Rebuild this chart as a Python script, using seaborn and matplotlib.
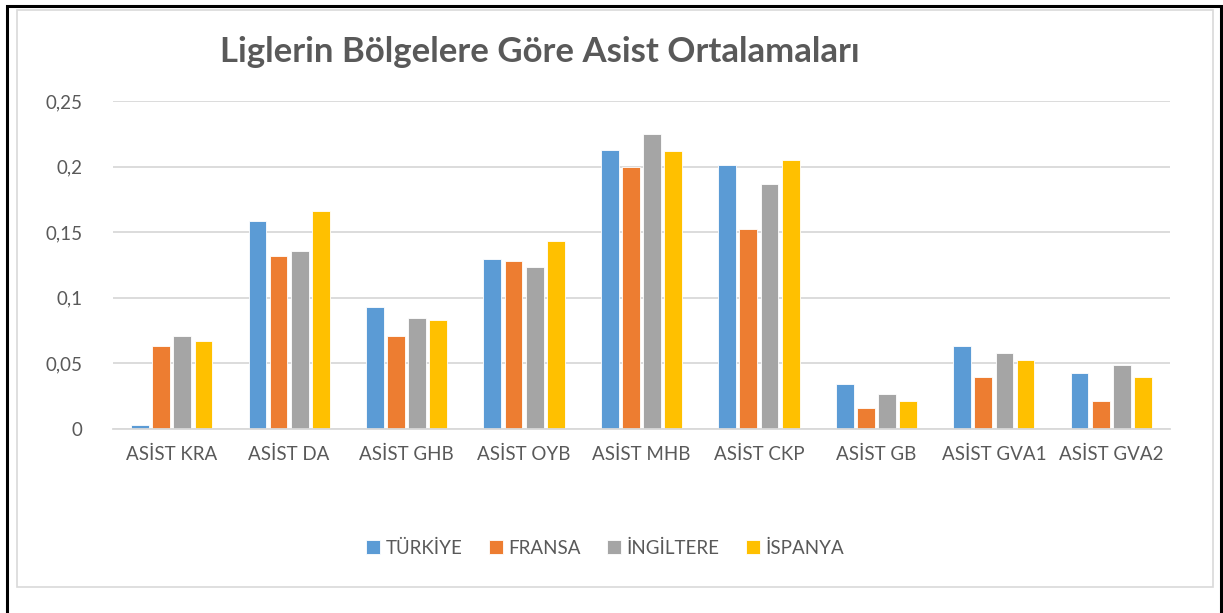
import matplotlib
matplotlib.use("Agg")
import matplotlib.pyplot as plt
from matplotlib.patches import Rectangle
from matplotlib.ticker import FuncFormatter
import pandas as pd
import seaborn as sns

kategoriler = ["ASİST KRA", "ASİST DA", "ASİST GHB", "ASİST OYB", "ASİST MHB",
               "ASİST CKP", "ASİST GB", "ASİST GVA1", "ASİST GVA2"]
ulkeler = ["TÜRKİYE", "FRANSA", "İNGİLTERE", "İSPANYA"]
turkiye = [0.0033, 0.1584, 0.0931, 0.1292, 0.2124, 0.2009, 0.0343, 0.0636, 0.0425]
fransa = [0.0631, 0.1317, 0.0712, 0.1277, 0.1999, 0.1526, 0.0158, 0.0394, 0.0211]
ingiltere = [0.0710, 0.1356, 0.0844, 0.1236, 0.2251, 0.1867, 0.0264, 0.0577, 0.0486]
ispanya = [0.0671, 0.1658, 0.0832, 0.1432, 0.2116, 0.2050, 0.0211, 0.0526, 0.0394]
renkler = ["#5b9bd5", "#ed7d31", "#a5a5a5", "#ffc000"]

seriler = [turkiye, fransa, ingiltere, ispanya]
rows = []
for ulke, vals in zip(ulkeler, seriler):
    for k, v in zip(kategoriler, vals):
        rows.append({"kategori": k, "ulke": ulke, "deger": v})
df = pd.DataFrame(rows)

sns.set_style("white")
plt.rcParams["font.family"] = ["Lato", "DejaVu Sans"]
gri = "#595959"

fig = plt.figure(figsize=(12.23, 6.13), dpi=100)
ax = fig.add_axes([113 / 1223, 1 - 429 / 613, (1170 - 113) / 1223, (429 - 101) / 613])

sns.barplot(data=df, x="kategori", y="deger", hue="ulke", palette=renkler,
            saturation=1, width=0.72, gap=0.16, edgecolor="white", linewidth=0.6, ax=ax)

ax.set_ylim(0, 0.25)
ax.set_yticks([0, 0.05, 0.1, 0.15, 0.2, 0.25])
ax.yaxis.set_major_formatter(FuncFormatter(lambda v, p: ("%g" % round(v, 2)).replace(".", ",")))
ax.grid(axis="y", color="#d9d9d9", linewidth=1.3)
ax.set_axisbelow(True)
for s in ["top", "right", "left"]:
    ax.spines[s].set_visible(False)
ax.spines["bottom"].set_color("#d9d9d9")
ax.spines["bottom"].set_linewidth(1.3)
ax.tick_params(axis="both", length=0, labelsize=13.5, colors=gri)
ax.tick_params(axis="y", pad=22)
ax.tick_params(axis="x", pad=12)
ax.set_xlabel("")
ax.set_ylabel("")
ax.set_xlim(-0.5, len(kategoriler) - 0.5)

handles, labels = ax.get_legend_handles_labels()
ax.legend_.remove()
fig.legend(handles, labels, loc="center", bbox_to_anchor=(605 / 1223, 1 - 548 / 613),
           ncol=4, frameon=False, fontsize=13.5, labelcolor=gri,
           handlelength=0.75, handleheight=0.75, handletextpad=0.3, columnspacing=1.4)

fig.text(540 / 1223, 1 - 52 / 613, "Liglerin Bölgelere Göre Asist Ortalamaları",
         ha="center", va="center", fontsize=25, fontweight="bold", color=gri)

# dis cerceveler
fig.patches.append(Rectangle((7 / 1223, -0.05), (1221 - 7) / 1223, 1.05 - 6 / 613,
                             transform=fig.transFigure, fill=False,
                             edgecolor="black", linewidth=2.2))
fig.patches.append(Rectangle((17 / 1223, 1 - 587 / 613), (1213 - 17) / 1223, (587 - 10) / 613,
                             transform=fig.transFigure, fill=False,
                             edgecolor="#d9d9d9", linewidth=1.2))

fig.savefig("out.png", dpi=100)
